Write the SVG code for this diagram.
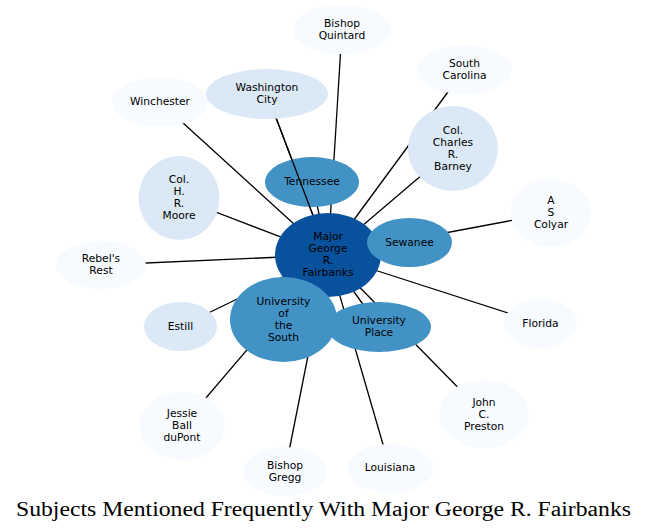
<svg xmlns="http://www.w3.org/2000/svg" xmlns:xlink="http://www.w3.org/1999/xlink" width="648" height="532" viewBox="0 0 648 532">
<style>
.e{stroke:#000;stroke-width:1.3;fill:none}
.l0{fill:#f7fbff}
.l1{fill:#dbe9f6}
.l2{fill:#4292c6}
.l3{fill:#08519c}
text{font-family:"DejaVu Sans",sans-serif;font-size:10.7px;fill:#000;text-anchor:middle}
.title{font-family:"Liberation Serif",serif;font-size:20px;fill:#000}
</style>
<rect width="648" height="532" fill="#fff"/>
<g id="connectors">
<line class="e" x1="328" y1="255" x2="342" y2="29.5"/>
<line class="e" x1="328" y1="255" x2="464.5" y2="69.5"/>
<line class="e" x1="328" y1="255" x2="453" y2="148.5"/>
<line class="e" x1="328" y1="255" x2="551" y2="213"/>
<line class="e" x1="328" y1="255" x2="409.5" y2="242.5"/>
<line class="e" x1="328" y1="255" x2="540.5" y2="323.5"/>
<line class="e" x1="328" y1="255" x2="484" y2="414"/>
<line class="e" x1="328" y1="255" x2="390" y2="468.5"/>
<line class="e" x1="328" y1="255" x2="379" y2="327"/>
<line class="e" x1="328" y1="255" x2="285" y2="471.5"/>
<line class="e" x1="328" y1="255" x2="283.5" y2="319.5"/>
<line class="e" x1="328" y1="255" x2="182" y2="426"/>
<line class="e" x1="328" y1="255" x2="180.5" y2="326.5"/>
<line class="e" x1="328" y1="255" x2="101" y2="265"/>
<line class="e" x1="328" y1="255" x2="179" y2="198"/>
<line class="e" x1="328" y1="255" x2="160" y2="102"/>
<line class="e" id="e-wash" x1="328" y1="255" x2="267" y2="94"/>
<line class="e" x1="328" y1="255" x2="312" y2="182"/>
</g>
<g id="n-quintard"><ellipse class="l0" cx="342" cy="29.5" rx="49" ry="24.5"/><text x="342" y="26.5">Bishop</text><text x="342" y="38.5">Quintard</text></g>
<g id="n-southcarolina"><ellipse class="l0" cx="464.5" cy="69.5" rx="47.5" ry="24.5"/><text x="464.5" y="66.5">South</text><text x="464.5" y="78.5">Carolina</text></g>
<g id="n-barney"><ellipse class="l1" cx="453" cy="148.5" rx="45" ry="42.5"/><text x="453" y="133.5">Col.</text><text x="453" y="145.5">Charles</text><text x="453" y="157.5">R.</text><text x="453" y="169.5">Barney</text></g>
<g id="n-colyar"><ellipse class="l0" cx="551" cy="213" rx="40" ry="34"/><text x="551" y="204">A</text><text x="551" y="216">S</text><text x="551" y="228">Colyar</text></g>
<g id="n-florida"><ellipse class="l0" cx="540.5" cy="323.5" rx="36.5" ry="24.5"/><text x="540.5" y="326.5">Florida</text></g>
<g id="n-preston"><ellipse class="l0" cx="484" cy="414" rx="45" ry="34"/><text x="484" y="405.5">John</text><text x="484" y="417.5">C.</text><text x="484" y="429.5">Preston</text></g>
<g id="n-louisiana"><ellipse class="l0" cx="390" cy="468.5" rx="43" ry="24.5"/><text x="390" y="470.5">Louisiana</text></g>
<g id="n-gregg"><ellipse class="l0" cx="285" cy="471.5" rx="42" ry="24.5"/><text x="285" y="468.5">Bishop</text><text x="285" y="480.5">Gregg</text></g>
<g id="n-dupont"><ellipse class="l0" cx="182" cy="426" rx="43" ry="34"/><text x="182" y="417">Jessie</text><text x="182" y="429">Ball</text><text x="182" y="441">duPont</text></g>
<g id="n-estill"><ellipse class="l1" cx="180.5" cy="326.5" rx="36.5" ry="24.5"/><text x="180.5" y="329.5">Estill</text></g>
<g id="n-rebels"><ellipse class="l0" cx="101" cy="265" rx="45" ry="24"/><text x="101" y="262">Rebel's</text><text x="101" y="274">Rest</text></g>
<g id="n-moore"><ellipse class="l1" cx="179" cy="198" rx="40.5" ry="42"/><text x="179" y="183">Col.</text><text x="179" y="195">H.</text><text x="179" y="207">R.</text><text x="179" y="219">Moore</text></g>
<g id="n-winchester"><ellipse class="l0" cx="160" cy="102" rx="48" ry="24.5"/><text x="160" y="105">Winchester</text></g>
<g id="n-tennessee"><ellipse class="l2" cx="312" cy="182" rx="47" ry="25"/><text x="312" y="185">Tennessee</text></g>
<g id="connector-overlay"><use xlink:href="#e-wash"/></g>
<g id="n-washington"><ellipse class="l1" cx="267" cy="94" rx="61" ry="25"/><text x="267" y="91">Washington</text><text x="267" y="103">City</text></g>
<g id="n-major"><ellipse class="l3" cx="328" cy="255" rx="53" ry="42"/><text x="328" y="240">Major</text><text x="328" y="251.9">George</text><text x="328" y="263.8">R.</text><text x="328" y="275.7">Fairbanks</text></g>
<g id="n-sewanee"><ellipse class="l2" cx="409.5" cy="242.5" rx="42.5" ry="24.5"/><text x="409.5" y="245.5">Sewanee</text></g>
<g id="n-unisouth"><ellipse class="l2" cx="283.5" cy="319.5" rx="53.5" ry="42.5"/><text x="283.5" y="304.5">University</text><text x="283.5" y="316.5">of</text><text x="283.5" y="328.5">the</text><text x="283.5" y="340.5">South</text></g>
<g id="n-uniplace"><ellipse class="l2" cx="379" cy="327" rx="52" ry="25"/><text x="379" y="323.5">University</text><text x="379" y="335.5">Place</text></g>
<text class="title" x="323.5" y="516" textLength="615" lengthAdjust="spacingAndGlyphs">Subjects Mentioned Frequently With Major George R. Fairbanks</text>
</svg>
